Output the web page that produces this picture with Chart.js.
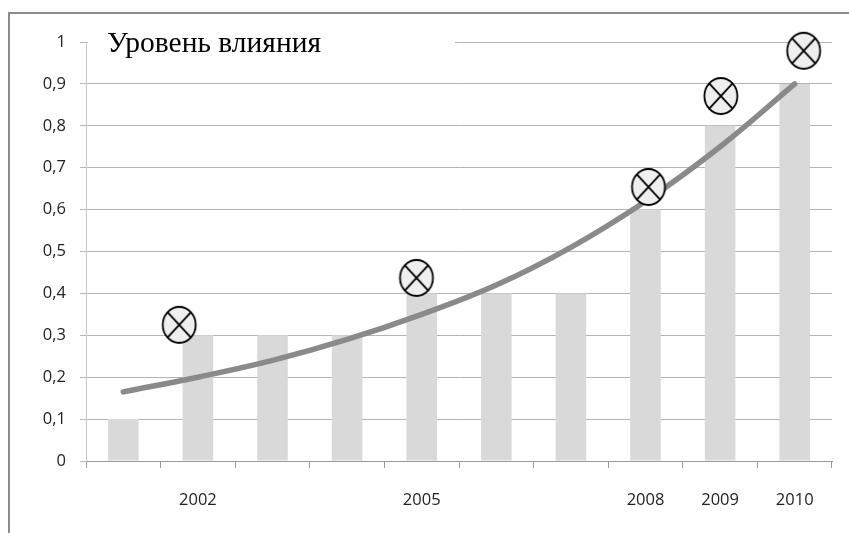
<!DOCTYPE html>
<html lang="ru">
<head>
<meta charset="UTF-8" />
<title>Уровень влияния</title>
<script src="https://cdn.jsdelivr.net/npm/chart.js"></script>
<style>
  html, body { margin: 0; padding: 0; background: #fff; }
  .frame { position: relative; width: 849px; height: 533px; }
  .border { position: absolute; left: 8px; top: 12px; right: 0; bottom: 0;
            border-top: 2px solid #8c8c8c; border-left: 2px solid #8c8c8c; }
  canvas { position: absolute; left: 0; top: 0; }
</style>
</head>
<body>
<div class="frame">
  <div class="border"></div>
  <canvas id="grafico" width="849" height="533"></canvas>
</div>
<script>
// dados
const anos = ["2001", "2002", "2003", "2004", "2005", "2006", "2007", "2008", "2009", "2010"];
const anosVisiveis = ["2002", "2005", "2008", "2009", "2010"];
const valoresBarras = [0.1, 0.3, 0.3, 0.3, 0.4, 0.4, 0.4, 0.6, 0.8, 0.9];
const valoresTendencia = [0.165, 0.2, 0.24, 0.29, 0.35, 0.42, 0.51, 0.62, 0.75, 0.9];
// marcadores ⊗ (posição em unidades de categoria, valor)
const marcadoresX = [0.75, 3.93, 7.04, 8.01, 9.12];
const marcadoresY = [0.325, 0.437, 0.654, 0.871, 0.979];
const tituloTexto = "Уровень влияния";

// marcador: círculo com X
function criarMarcador() {
    const c = document.createElement("canvas");
    c.width = 38; c.height = 42;
    const g = c.getContext("2d");
    const cx = 19, cy = 21, rx = 16.5, ry = 18;
    g.beginPath();
    g.ellipse(cx, cy, rx, ry, 0, 0, Math.PI * 2);
    g.fillStyle = "#efefef";
    g.fill();
    g.lineWidth = 1.8;
    g.strokeStyle = "#000";
    g.stroke();
    const dx = rx * Math.SQRT1_2, dy = ry * Math.SQRT1_2;
    g.beginPath();
    g.moveTo(cx - dx, cy - dy); g.lineTo(cx + dx, cy + dy);
    g.moveTo(cx + dx, cy - dy); g.lineTo(cx - dx, cy + dy);
    g.stroke();
    return c;
}

const dadosMarcadores = marcadoresX.map((x, i) => ({ x: x, y: marcadoresY[i] }));

const pluginTitulo = {
    id: "tituloCaixa",
    afterDatasetsDraw(chart) {
        const ctx = chart.ctx;
        ctx.save();
        ctx.fillStyle = "#fff";
        ctx.fillRect(88, 26, 367, 34);
        ctx.fillStyle = "#000";
        ctx.font = "29.5px 'Liberation Serif', serif";
        ctx.textBaseline = "middle";
        ctx.fillText(tituloTexto, 107, 44);
        ctx.restore();
    }
};

const config = {
    data: {
        labels: anos,
        datasets: [
            {
                type: "scatter",
                data: dadosMarcadores,
                xAxisID: "xm",
                pointStyle: criarMarcador(),
                pointRadius: 16,
                clip: false,
                order: 1
            },
            {
                type: "line",
                data: valoresTendencia,
                borderColor: "#8a8a8a",
                borderWidth: 5.5,
                borderCapStyle: "round",
                tension: 0.4,
                pointRadius: 0,
                fill: false,
                order: 2
            },
            {
                type: "bar",
                data: valoresBarras,
                backgroundColor: "#d9d9d9",
                grouped: false,
                barPercentage: 0.41,
                categoryPercentage: 1,
                order: 3
            }
        ]
    },
    options: {
        responsive: false,
        animation: false,
        layout: { padding: { left: 0, top: 42, right: 16, bottom: 0 } },
        plugins: { legend: { display: false }, tooltip: { enabled: false }, title: { display: false } },
        scales: {
            x: {
                type: "category",
                offset: true,
                afterFit(scale) { scale.height = 72; },
                grid: { offset: true, drawOnChartArea: false, tickLength: 7, color: "#9a9a9a" },
                border: { color: "#9a9a9a" },
                ticks: {
                    autoSkip: false,
                    maxRotation: 0,
                    padding: 22,
                    color: "#222",
                    font: { family: "'Open Sans'", size: 16.5 },
                    callback: function (v, i) { return anosVisiveis.includes(anos[i]) ? anos[i] : ""; }
                }
            },
            xm: {
                type: "linear",
                min: -0.5,
                max: 9.5,
                display: false
            },
            y: {
                min: 0,
                max: 1,
                afterFit(scale) { scale.width = 86; },
                grid: { color: "#b4b4b4", tickLength: 6 },
                border: { color: "#c8c8c8" },
                ticks: {
                    stepSize: 0.1,
                    padding: 14,
                    color: "#222",
                    font: { family: "'Open Sans'", size: 16.5 },
                    callback: v => (Math.round(v * 10) / 10).toString().replace(".", ",")
                }
            }
        }
    },
    plugins: [pluginTitulo]
};

new Chart(document.getElementById("grafico"), config);
</script>
</body>
</html>
